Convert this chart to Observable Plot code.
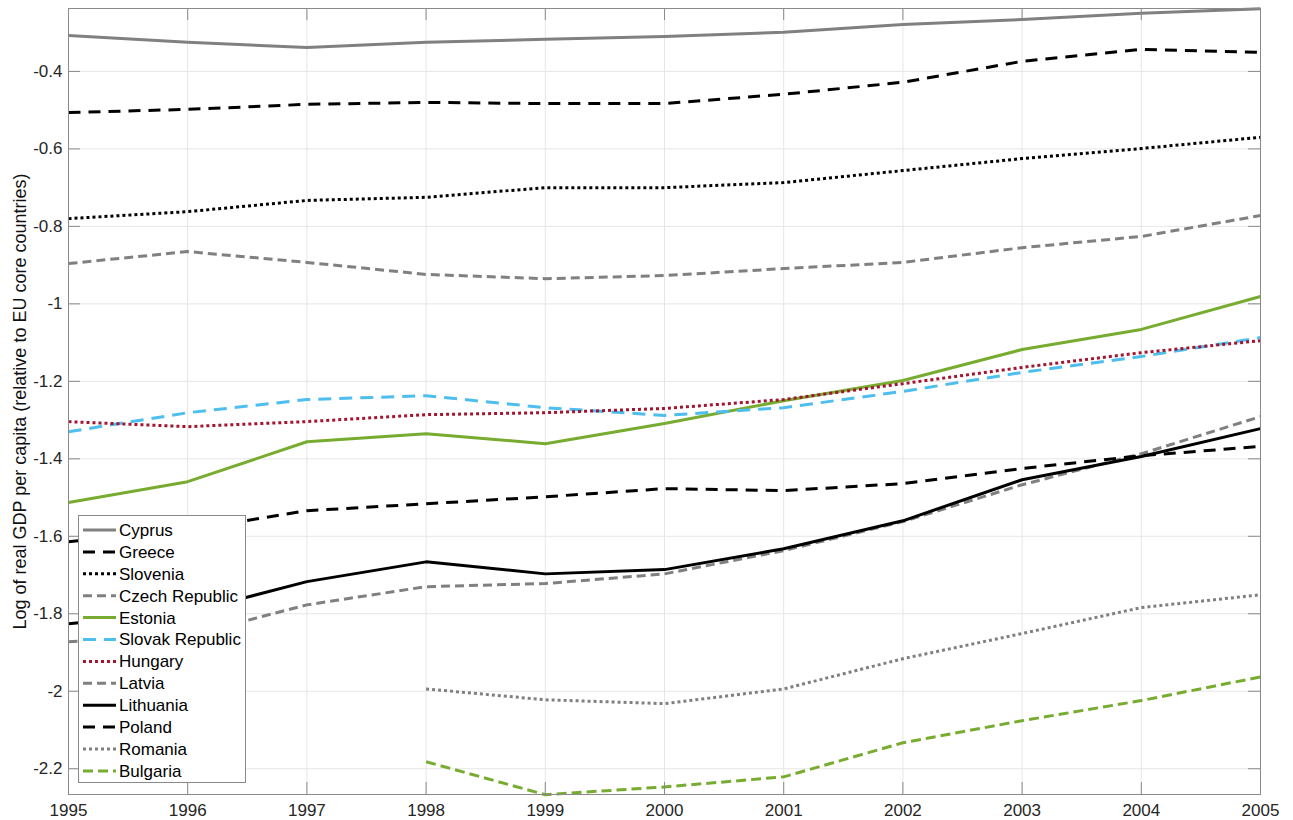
<!DOCTYPE html>
<html>
<head>
<meta charset="utf-8">
<script src="https://cdn.jsdelivr.net/npm/d3@7"></script>
<script src="https://cdn.jsdelivr.net/npm/@observablehq/plot@0.6"></script>
<style>
  html, body { margin: 0; padding: 0; background: #fff; overflow: hidden; }
  #chart { width: 1293px; height: 820px; }
</style>
</head>
<body>
<div id="chart"></div>
<script>
// ---- Data ----
const years = [1995, 1996, 1997, 1998, 1999, 2000, 2001, 2002, 2003, 2004, 2005];

const cyprus   = [-0.307, -0.325, -0.338, -0.325, -0.317, -0.310, -0.299, -0.279, -0.266, -0.250, -0.238];
const greece   = [-0.506, -0.498, -0.485, -0.480, -0.483, -0.483, -0.459, -0.428, -0.374, -0.343, -0.351];
const slovenia = [-0.780, -0.762, -0.733, -0.725, -0.700, -0.700, -0.687, -0.656, -0.625, -0.599, -0.570];
const czech    = [-0.896, -0.865, -0.893, -0.924, -0.935, -0.927, -0.909, -0.893, -0.855, -0.826, -0.772];
const estonia  = [-1.513, -1.459, -1.356, -1.335, -1.361, -1.309, -1.250, -1.198, -1.118, -1.066, -0.981];
const slovakia = [-1.330, -1.281, -1.247, -1.237, -1.268, -1.288, -1.268, -1.226, -1.177, -1.136, -1.087];
const hungary  = [-1.304, -1.317, -1.304, -1.286, -1.281, -1.270, -1.247, -1.206, -1.164, -1.126, -1.095];
const latvia   = [-1.872, -1.857, -1.777, -1.730, -1.722, -1.697, -1.637, -1.562, -1.467, -1.387, -1.291];
const lithuania= [-1.826, -1.797, -1.717, -1.666, -1.697, -1.686, -1.632, -1.560, -1.454, -1.394, -1.322];
const poland   = [-1.614, -1.584, -1.534, -1.516, -1.498, -1.477, -1.482, -1.464, -1.425, -1.392, -1.368];
const romania  = [null, null, null, -1.994, -2.022, -2.032, -1.994, -1.916, -1.851, -1.784, -1.751];
const bulgaria = [null, null, null, -2.182, -2.267, -2.247, -2.221, -2.133, -2.076, -2.024, -1.963];

const countries = ["Cyprus", "Greece", "Slovenia", "Czech Republic", "Estonia", "Slovak Republic",
                   "Hungary", "Latvia", "Lithuania", "Poland", "Romania", "Bulgaria"];
const seriesList = [cyprus, greece, slovenia, czech, estonia, slovakia,
                    hungary, latvia, lithuania, poland, romania, bulgaria];

const yTicks = [-2.2, -2, -1.8, -1.6, -1.4, -1.2, -1, -0.8, -0.6, -0.4];
const xTicks = years;
const yLabel = "Log of real GDP per capita (relative to EU core countries)";

// ---- Styles (kept apart from the data) ----
const GRAY = "#808080", BLACK = "#000000", GREEN = "#77AC30", BLUE = "#4DBEEE", RED = "#A2142F";
const styles = [
  {stroke: GRAY,  dash: null},
  {stroke: BLACK, dash: "12,8"},
  {stroke: BLACK, dash: "3,3"},
  {stroke: GRAY,  dash: "9,5"},
  {stroke: GREEN, dash: null},
  {stroke: BLUE,  dash: "13,8"},
  {stroke: RED,   dash: "3,3"},
  {stroke: GRAY,  dash: "9,5"},
  {stroke: BLACK, dash: null},
  {stroke: BLACK, dash: "12,8"},
  {stroke: GRAY,  dash: "3,3"},
  {stroke: GREEN, dash: "10,5"}
];

// ---- Build table ----
const rows = countries.flatMap((c, i) =>
  years.map((yr, j) => ({country: c, year: yr, value: seriesList[i][j]}))
).filter(d => d.value != null);

const W = 1293, H = 820;
const mL = 68, mR = 33, mT = 8, mB = 26;
const plotW = W - mL - mR, plotH = H - mT - mB;
const TICK = 12;
const FRAME = "#8a8a8a";
const FONT = "'Liberation Sans', Arial, Helvetica, sans-serif";

const lineMarks = countries.map((c, i) =>
  Plot.line(rows.filter(d => d.country === c), {
    x: "year", y: "value",
    stroke: styles[i].stroke,
    strokeWidth: 3,
    strokeDasharray: styles[i].dash,
    strokeLinecap: "butt",
    strokeLinejoin: "round"
  })
);

const chart = Plot.plot({
  width: W, height: H,
  marginLeft: mL, marginRight: mR, marginTop: mT, marginBottom: mB,
  style: {fontFamily: FONT, fontSize: "17px", color: "#262626", background: "#fff", overflow: "visible"},
  x: {domain: [1995, 2005]},
  y: {domain: [-2.2665, -0.2376]},
  marks: [
    Plot.gridX(xTicks, {stroke: "#e6e6e6", strokeOpacity: 1}),
    Plot.gridY(yTicks, {stroke: "#e6e6e6", strokeOpacity: 1}),
    ...lineMarks,
    Plot.tickY(yTicks, {stroke: FRAME, insetRight: plotW - TICK}),
    Plot.tickY(yTicks, {stroke: FRAME, insetLeft: plotW - TICK}),
    Plot.tickX(xTicks, {stroke: FRAME, insetTop: plotH - TICK}),
    Plot.tickX(xTicks, {stroke: FRAME, insetBottom: plotH - TICK}),
    Plot.frame({stroke: FRAME, strokeWidth: 1}),
    Plot.axisY({ticks: yTicks, tickSize: 0, tickPadding: 6, tickFormat: d => String(d), label: null, fontSize: 17, fill: "#262626"}),
    Plot.axisX({ticks: xTicks, tickSize: 0, tickPadding: 9, tickFormat: d => String(d), label: null, fontSize: 17, fill: "#262626"}),
    Plot.text([yLabel], {frameAnchor: "left", textAnchor: "middle", lineAnchor: "middle", rotate: -90, dx: -48, fontSize: 18, fill: "#111"})
  ]
});

document.getElementById("chart").appendChild(chart);

// ---- Legend (drawn into the same SVG) ----
const svg = d3.select(chart);
const lg = svg.append("g").attr("font-family", FONT).attr("font-size", 17).attr("text-anchor", "start");
const LX = 78.5, LY = 515.5, LW = 167, LH = 267, ROW0 = 530, STEP = 21.9;
lg.append("rect").attr("x", LX).attr("y", LY).attr("width", LW).attr("height", LH)
  .attr("fill", "#fff").attr("stroke", "#8a8a8a").attr("stroke-width", 1);
countries.forEach((c, i) => {
  const y = ROW0 + i * STEP;
  lg.append("line").attr("x1", 83).attr("x2", 116).attr("y1", y).attr("y2", y)
    .attr("stroke", styles[i].stroke).attr("stroke-width", 3)
    .attr("stroke-dasharray", styles[i].dash).attr("stroke-linecap", "butt");
  lg.append("text").attr("x", 119).attr("y", y).attr("dy", "0.35em")
    .attr("text-anchor", "start").attr("fill", "#000").text(c);
});
</script>
</body>
</html>
